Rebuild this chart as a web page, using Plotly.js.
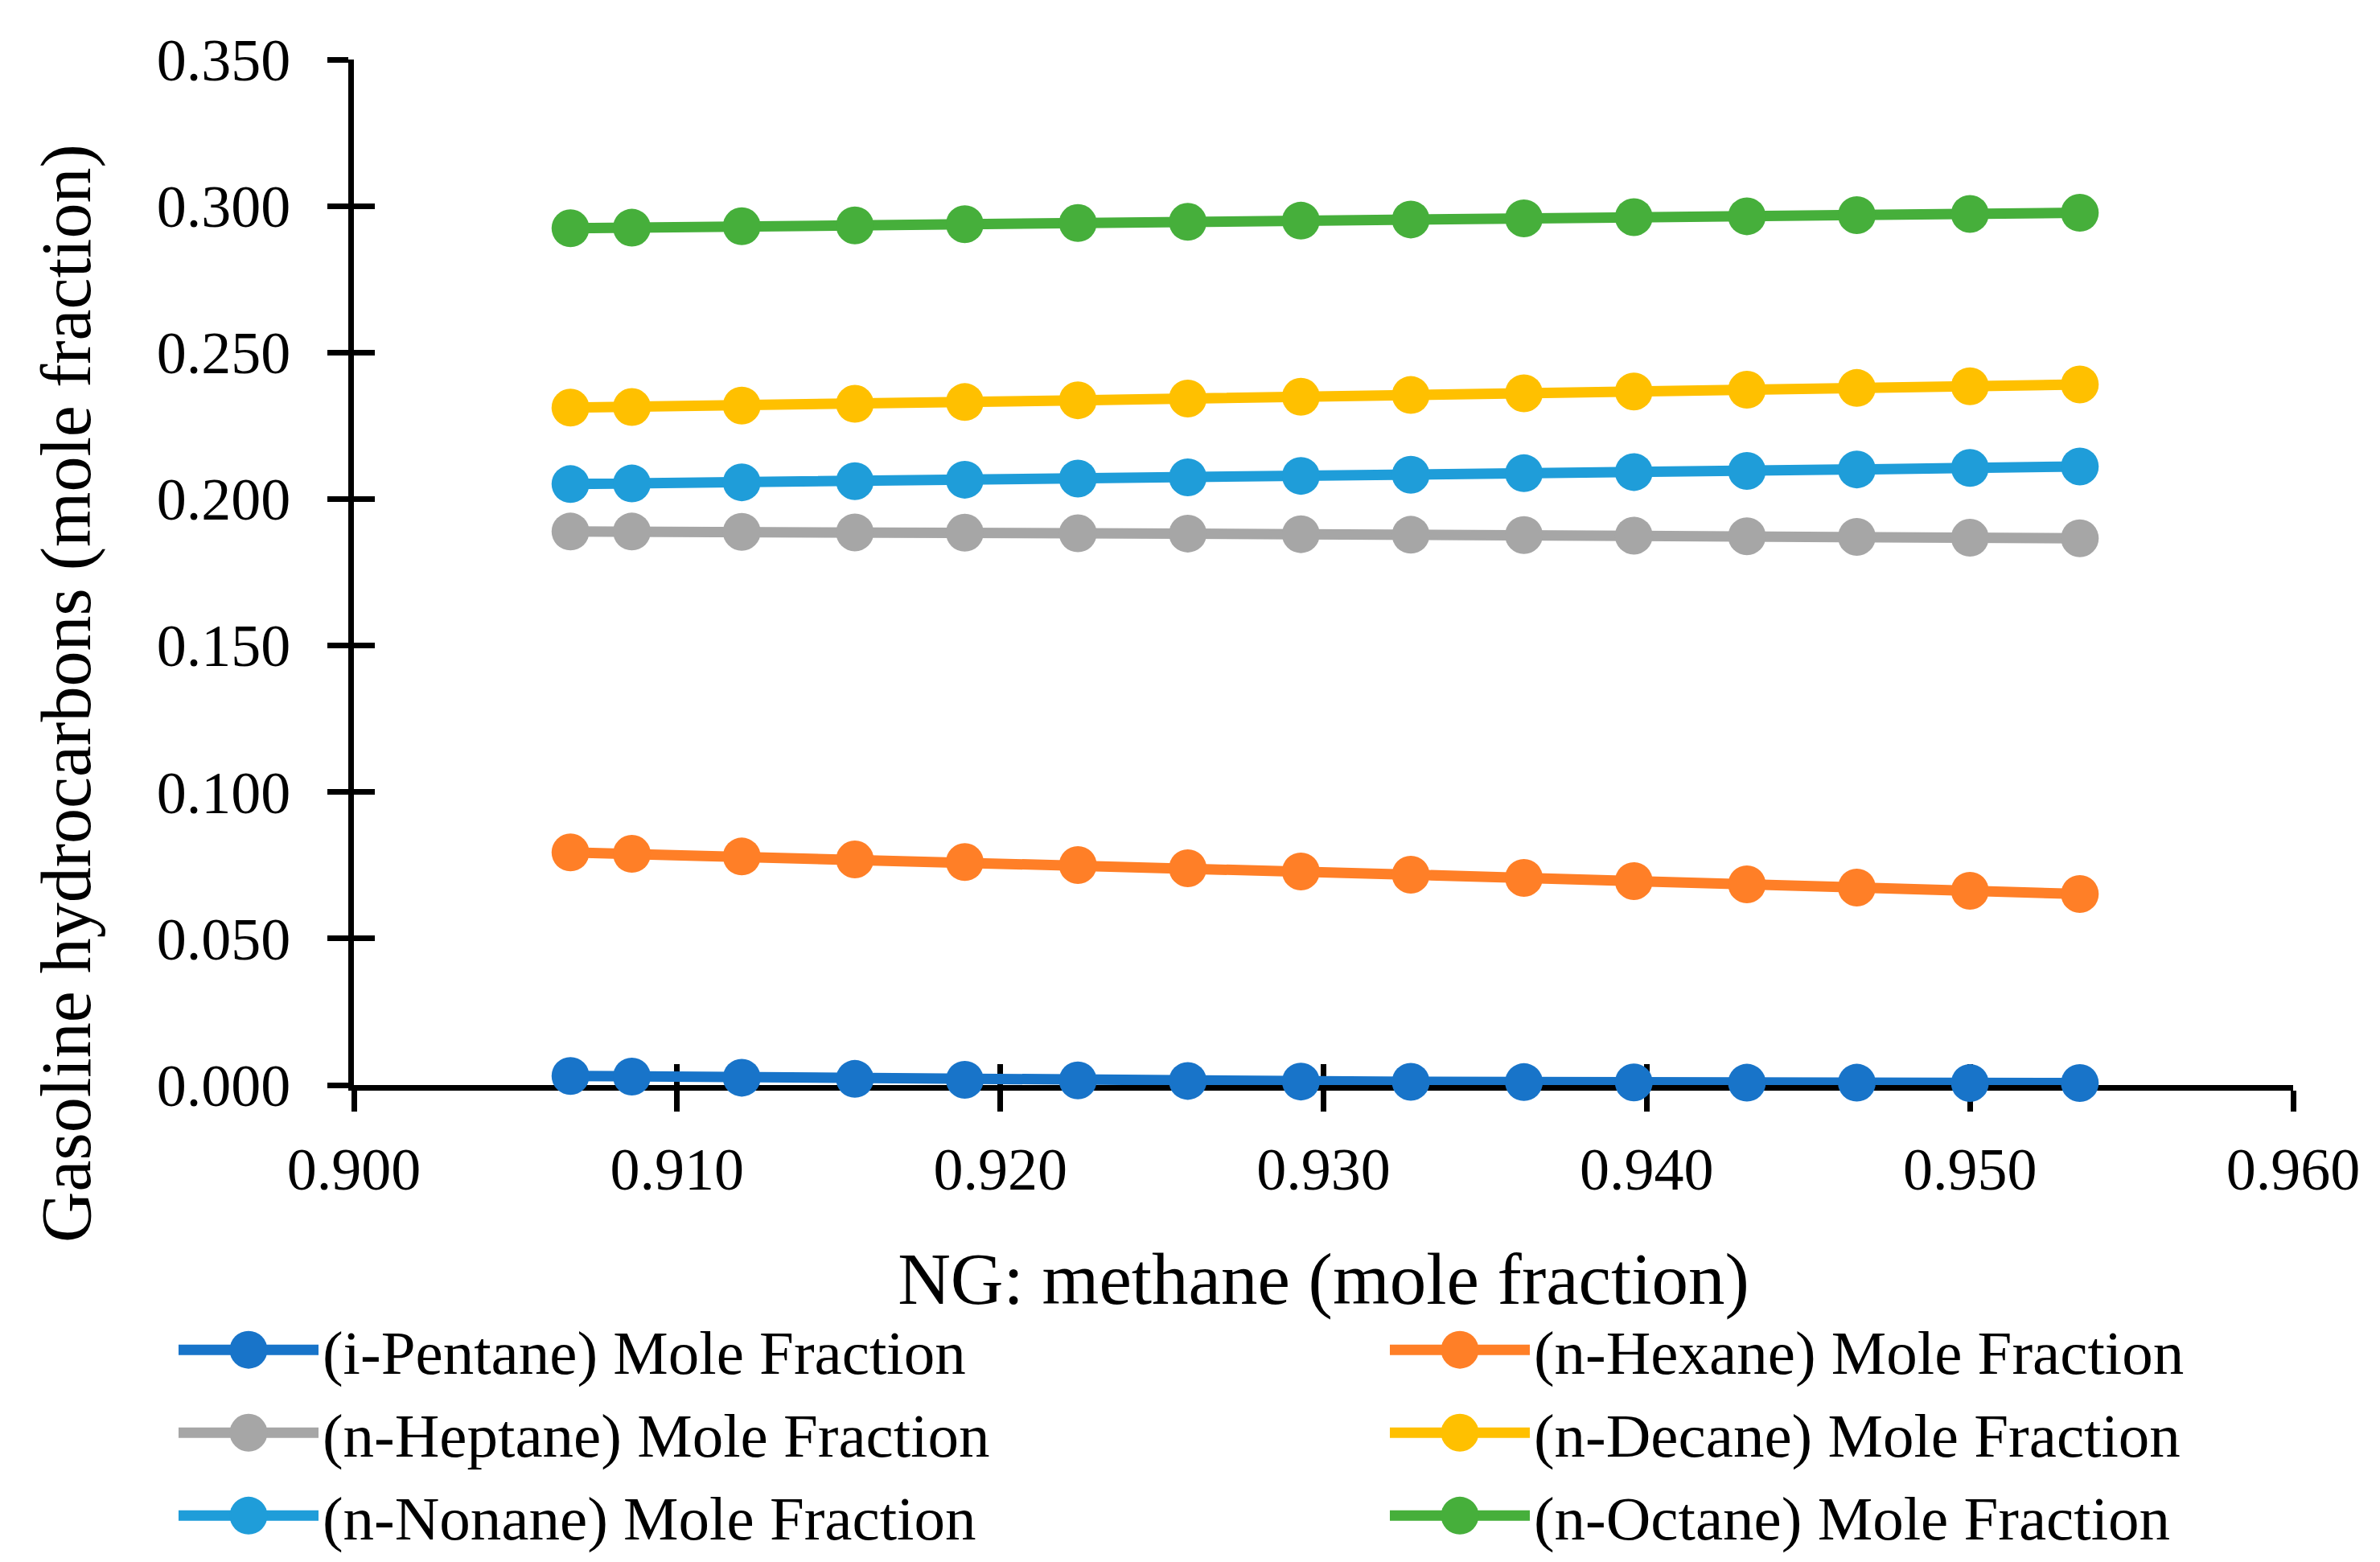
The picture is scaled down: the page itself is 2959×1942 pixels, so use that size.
<!DOCTYPE html>
<html>
<head>
<meta charset="utf-8">
<script src="https://cdn.plot.ly/plotly-3.0.1.min.js"></script>
<style>
  html, body { margin: 0; padding: 0; background: #fff; }
  #chart { width: 2959px; height: 1942px; }
</style>
</head>
<body>
<div id="chart"></div>
<script>
// methane mole fraction in the NG feed
let methane = [0.9067, 0.9086, 0.9120, 0.9155, 0.9189, 0.9224, 0.9258, 0.9293,
               0.9327, 0.9362, 0.9396, 0.9431, 0.9465, 0.9500, 0.9534];

let iPentane = [0.0031, 0.0029, 0.0025, 0.0021, 0.0018, 0.0016, 0.0014, 0.0012,
                0.0011, 0.0010, 0.0009, 0.0008, 0.0008, 0.0007, 0.0007];
let nHexane  = [0.0794, 0.0789, 0.0780, 0.0770, 0.0761, 0.0751, 0.0740, 0.0729,
                0.0718, 0.0707, 0.0696, 0.0685, 0.0674, 0.0663, 0.0652];
let nHeptane = [0.1889, 0.1889, 0.1888, 0.1886, 0.1885, 0.1883, 0.1882, 0.1880,
                0.1878, 0.1877, 0.1875, 0.1873, 0.1871, 0.1868, 0.1866];
let nDecane  = [0.2312, 0.2314, 0.2319, 0.2325, 0.2331, 0.2337, 0.2343, 0.2349,
                0.2355, 0.2361, 0.2367, 0.2373, 0.2379, 0.2385, 0.2391];
let nNonane  = [0.2051, 0.2053, 0.2057, 0.2061, 0.2066, 0.2070, 0.2074, 0.2079,
                0.2083, 0.2088, 0.2092, 0.2096, 0.2101, 0.2106, 0.2111];
let nOctane  = [0.2924, 0.2926, 0.2931, 0.2934, 0.2938, 0.2942, 0.2946, 0.2950,
                0.2954, 0.2958, 0.2962, 0.2965, 0.2969, 0.2973, 0.2977];

let names  = ['(i-Pentane) Mole Fraction', '(n-Hexane) Mole Fraction', '(n-Heptane) Mole Fraction',
              '(n-Decane) Mole Fraction', '(n-Nonane) Mole Fraction', '(n-Octane) Mole Fraction'];
let series = [iPentane, nHexane, nHeptane, nDecane, nNonane, nOctane];
let colors = ['#1874C9', '#FF7F27', '#A6A6A6', '#FFC000', '#1F9DD9', '#46AF3B'];
// legend columns: left column / right column
let legendCol = ['left', 'right', 'left', 'right', 'left', 'right'];

let xTicks = [0.900, 0.910, 0.920, 0.930, 0.940, 0.950, 0.960];
let yTicks = [0.000, 0.050, 0.100, 0.150, 0.200, 0.250, 0.300, 0.350];

const FONT = '"Liberation Serif", "Times New Roman", serif';

let traces = [];
for (let i = 0; i < series.length; i++) {
    let t = {
        x: methane,
        y: series[i],
        name: names[i],
        legendgroup: legendCol[i],
        mode: 'lines+markers',
        line: {color: colors[i], width: 13},
        marker: {color: colors[i], size: 47},
        cliponaxis: false
    };
    if (legendCol[i] == 'left') t.legendwidth = 1317;
    traces.push(t);
}
// empty trace so the overlay axes (inner half of the crossing ticks) get drawn
traces.push({x: [], y: [], xaxis: 'x2', yaxis: 'y2', showlegend: false, hoverinfo: 'skip'});

let tickBase = {
    ticks: 'outside', ticklen: 26, tickwidth: 7, tickcolor: '#000',
    showgrid: false, zeroline: false, layer: 'below traces'
};

var layout = {
    width: 2959,
    height: 1942,
    paper_bgcolor: '#fff',
    plot_bgcolor: '#fff',
    margin: {l: 440, r: 108, t: 74, b: 593, pad: 0, autoexpand: false},
    font: {family: FONT, size: 74, color: '#000'},
    showlegend: true,
    xaxis: Object.assign({}, tickBase, {
        range: [0.9, 0.96],
        tickvals: xTicks,
        tickformat: '.3f',
        showline: true, linecolor: '#000', linewidth: 7,
        ticklabelstandoff: 8,
        tickfont: {family: FONT, size: 74, color: '#000'},
        title: {text: 'NG: methane (mole fraction)', font: {family: FONT, size: 91, color: '#000'}, standoff: 66}
    }),
    yaxis: Object.assign({}, tickBase, {
        range: [0, 0.35],
        tickvals: yTicks,
        tickformat: '.3f',
        showline: true, linecolor: '#000', linewidth: 7,
        ticklabelstandoff: 31,
        tickfont: {family: FONT, size: 74, color: '#000'}
    }),
    xaxis2: Object.assign({}, tickBase, {
        overlaying: 'x', anchor: 'y', side: 'bottom',
        range: [0.9, 0.96], tickvals: xTicks, ticks: 'inside',
        showticklabels: false, showline: false
    }),
    yaxis2: Object.assign({}, tickBase, {
        overlaying: 'y', anchor: 'x', side: 'left',
        range: [0, 0.35], tickvals: yTicks, ticks: 'inside',
        showticklabels: false, showline: false
    }),
    // y title sits lower than the plot centre in the original, so it is an annotation
    annotations: [{
        text: 'Gasoline hydrocarbons (mole fraction)',
        xref: 'paper', yref: 'paper',
        x: -0.148, y: 0.382,
        xanchor: 'center', yanchor: 'middle',
        textangle: -90, showarrow: false,
        font: {family: FONT, size: 88, color: '#000'}
    }],
    legend: {
        orientation: 'h',
        xref: 'paper', yref: 'paper',
        x: -0.0925, y: -0.2138,
        xanchor: 'left', yanchor: 'top',
        itemwidth: 174,
        tracegroupgap: 0,
        font: {family: FONT, size: 77, color: '#000'},
        bgcolor: 'rgba(0,0,0,0)'
    }
};

Plotly.newPlot('chart', traces, layout, {staticPlot: true}).then(function(gd) {
    // legend symbols are capped in size by plotly; enlarge them to match the plot markers
    gd.querySelectorAll('.legend .legendpoints path.scatterpts').forEach(function(p) {
        p.setAttribute('d', 'M23.5,0A23.5,23.5 0 1,1 0,-23.5A23.5,23.5 0 0,1 23.5,0Z');
    });
    gd.querySelectorAll('.legend .legendlines path').forEach(function(p) {
        p.style.strokeWidth = '13px';
    });
});
</script>
</body>
</html>
